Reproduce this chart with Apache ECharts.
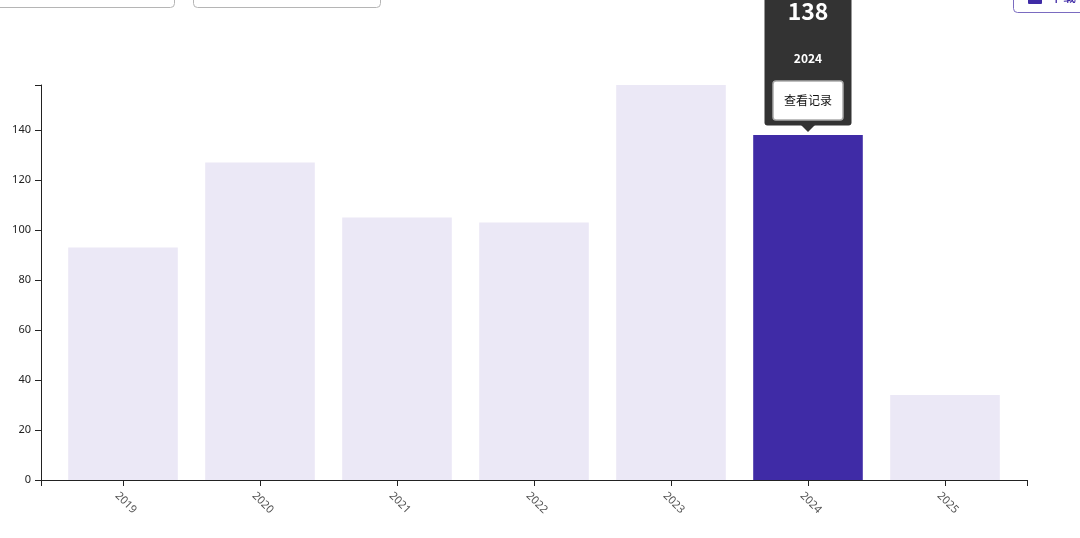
<!DOCTYPE html>
<html>
<head>
<meta charset="utf-8">
<style>
html,body{margin:0;padding:0;background:#fff;overflow:hidden}
#main_bar{width:1080px;height:538px}
</style>
<script src="https://cdn.jsdelivr.net/npm/echarts@6/dist/echarts.min.js"></script>
</head>
<body>
<div id="main_bar"></div>
<script>
var font = '"Noto Sans","Noto Sans CJK SC",sans-serif';
var cjkFont = '"Noto Sans CJK SC","Noto Sans",sans-serif';
var categories = ['2019','2020','2021','2022','2023','2024','2025'];
var values = [93,127,105,103,158,138,34];
var activeIndex = 5;
var axisMax = 158;
var tipButton = '查看记录';
var downloadText = '下载';

var myBar = echarts.init(document.getElementById('main_bar'));

function setBars(){
    return values.map(function(v,i){
        return {value:v, itemStyle:{color: i === activeIndex ? '#3F2BA6' : '#EBE8F6'}};
    });
}

// the bands have outer padding, so the grid is narrower than the drawn axis line
myBar.setOption({
    animation:false,
    grid:{left:54.5,right:66.5,top:85,bottom:58},
    xAxis:{
        type:'category',
        data:categories,
        axisLine:{show:false},
        axisTick:{show:false},
        axisLabel:{rotate:-45,fontSize:11,color:'#555',fontFamily:font,margin:20,align:'center',verticalAlign:'middle',interval:0,padding:[0,0,0,8]}
    },
    yAxis:{
        type:'value',
        min:0,
        max:axisMax,
        interval:20,
        offset:13.5,
        splitLine:{show:false},
        axisLine:{show:true,lineStyle:{color:'#222',width:1}},
        axisTick:{show:true,length:6,lineStyle:{color:'#222'}},
        axisLabel:{fontSize:11,color:'#222',fontFamily:font,margin:10,showMaxLabel:false,
            formatter:function(v){return v === axisMax ? '' : String(v);}}
    },
    series:[{type:'bar',data:setBars(),barCategoryGap:'20%'}]
});

// x axis line, its ticks and the popup are anchored on the chart's own scales
var tipPos = myBar.convertToPixel({xAxisIndex:0,yAxisIndex:0},[activeIndex,values[activeIndex]]);
var cx = tipPos[0], barTop = tipPos[1];
var baseY = myBar.convertToPixel({yAxisIndex:0},0);
var maxY = myBar.convertToPixel({yAxisIndex:0},axisMax);
var axisParts = [
    {type:'line',shape:{x1:41,y1:baseY+0.5,x2:1027.5,y2:baseY+0.5},style:{stroke:'#222',lineWidth:1},silent:true},
    {type:'line',shape:{x1:35,y1:maxY+0.5,x2:41.5,y2:maxY+0.5},style:{stroke:'#222',lineWidth:1},silent:true}
];
var tickXs = [41,1027];
categories.forEach(function(c,i){
    tickXs.push(Math.floor(myBar.convertToPixel({xAxisIndex:0},i)));
});
tickXs.forEach(function(tx){
    axisParts.push({type:'line',shape:{x1:tx+0.5,y1:baseY,x2:tx+0.5,y2:baseY+6},style:{stroke:'#222',lineWidth:1},silent:true});
});

myBar.setOption({
    graphic:axisParts.concat([
        // filter boxes cut off at the top
        {type:'rect',shape:{x:-20,y:-20,width:194.5,height:27.5,r:4},style:{fill:'#fff',stroke:'#b5b5b5',lineWidth:1}},
        {type:'rect',shape:{x:193.5,y:-20,width:187,height:27.5,r:4},style:{fill:'#fff',stroke:'#b5b5b5',lineWidth:1}},
        // download button
        {type:'rect',shape:{x:1013.5,y:-20,width:90,height:32.5,r:4},style:{fill:'#fff',stroke:'#7A6BC0',lineWidth:1}},
        {type:'rect',shape:{x:1028,y:-8,width:14,height:12,r:1},style:{fill:'#3F2BA6'}},
        {type:'text',style:{x:1050,y:-10,text:downloadText,font:'500 13px '+cjkFont,fill:'#3F2BA6'}},
        // popup over the active bar
        {type:'rect',shape:{x:cx-43.5,y:barTop-165,width:87,height:155.5,r:3},style:{fill:'#333'}},
        {type:'polygon',shape:{points:[[cx-7,barTop-10],[cx+7,barTop-10],[cx,barTop-3]]},style:{fill:'#333'}},
        {type:'text',style:{x:cx,y:barTop-124,text:String(values[activeIndex]),font:'bold 23px '+cjkFont,fill:'#fff',align:'center',verticalAlign:'middle'}},
        {type:'text',style:{x:cx,y:barTop-77,text:categories[activeIndex],font:'bold 12px '+cjkFont,fill:'#fff',align:'center',verticalAlign:'middle'}},
        {type:'rect',shape:{x:cx-35,y:barTop-54,width:70,height:39,r:3},style:{fill:'#fff',stroke:'#aaa',lineWidth:1.5}},
        {type:'text',style:{x:cx,y:barTop-34.5,text:tipButton,font:'12px '+cjkFont,fill:'#111',align:'center',verticalAlign:'middle'}}
    ])
});
</script>
</body>
</html>
